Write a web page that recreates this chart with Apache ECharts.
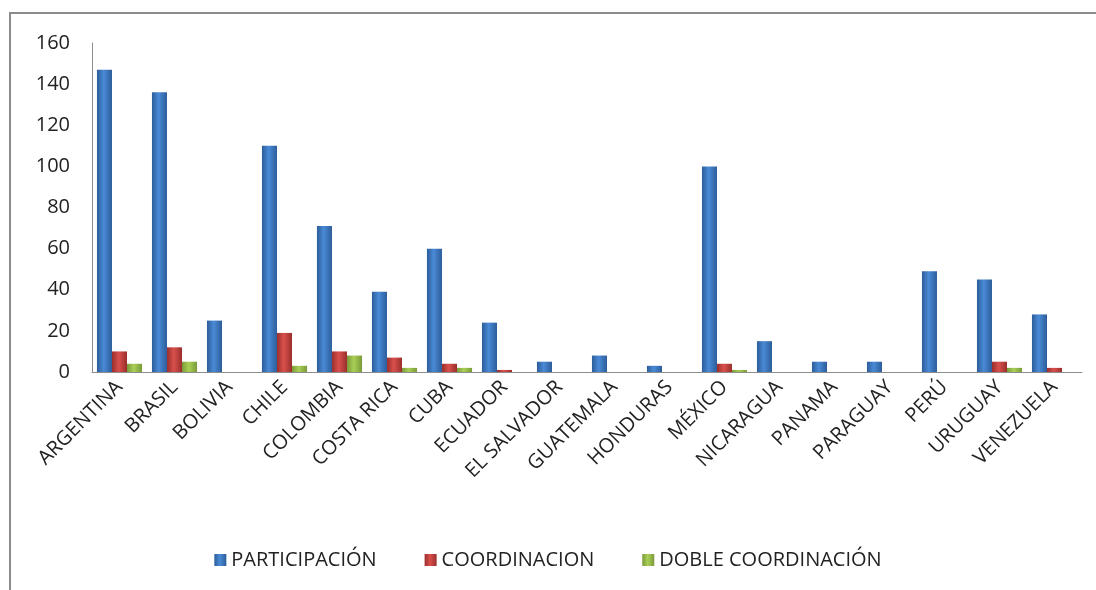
<!DOCTYPE html>
<html>
<head>
<meta charset="utf-8">
<script src="https://cdn.jsdelivr.net/npm/echarts@6/dist/echarts.min.js"></script>
<style>
  html, body { margin: 0; padding: 0; background: #fff; }
  .frame {
    position: absolute; left: 9px; top: 12px; width: 1200px; height: 700px;
    border-top: 2px solid #8c8c8c; border-left: 2px solid #8c8c8c;
  }
  #chart { position: absolute; left: 0; top: 0; width: 1096px; height: 590px; }
</style>
</head>
<body>
<div class="frame"></div>
<div id="chart"></div>
<script>
// paises
const paises = ['ARGENTINA', 'BRASIL', 'BOLIVIA', 'CHILE', 'COLOMBIA', 'COSTA RICA', 'CUBA', 'ECUADOR',
  'EL SALVADOR', 'GUATEMALA', 'HONDURAS', 'MÉXICO', 'NICARAGUA', 'PANAMA', 'PARAGUAY', 'PERÚ', 'URUGUAY', 'VENEZUELA'];
const participacion = [147, 136, 25, 110, 71, 39, 60, 24, 5, 8, 3, 100, 15, 5, 5, 49, 45, 28];
const coordinacion = [10, 12, 0, 19, 10, 7, 4, 1, 0, 0, 0, 4, 0, 0, 0, 0, 5, 2];
const dobleCoordinacion = [4, 5, 0, 3, 8, 2, 2, 0, 0, 0, 0, 1, 0, 0, 0, 0, 2, 0];
const yTicks = [0, 20, 40, 60, 80, 100, 120, 140, 160];

const chart = echarts.init(document.getElementById('chart'));

// degradado horizontal tipo Excel
function relleno(oscuro, claro) {
  return new echarts.graphic.LinearGradient(0, 0, 1, 0, [
    { offset: 0, color: oscuro },
    { offset: 0.45, color: claro },
    { offset: 1, color: oscuro },
  ]);
}

const option = {
  animation: false,
  textStyle: { fontFamily: 'Open Sans' },
  grid: { left: 92, right: 14, top: 43, bottom: 218 },
  legend: {
    bottom: 15,
    left: 'center',
    itemWidth: 12,
    itemHeight: 12,
    itemGap: 48,
    itemTextGap: 8,
    icon: 'rect',
    textStyle: { fontSize: 20, color: '#222' },
    data: ['PARTICIPACIÓN', 'COORDINACION', 'DOBLE COORDINACIÓN'],
  },
  xAxis: {
    type: 'category',
    data: paises,
    axisLine: { show: true, lineStyle: { color: '#8c8c8c', width: 1 } },
    axisTick: { show: false },
    axisLabel: {
      interval: 0,
      rotate: 45,
      fontSize: 20,
      color: '#222',
      margin: 12,
    },
  },
  yAxis: {
    type: 'value',
    min: 0,
    max: 160,
    interval: 20,
    splitLine: { show: false },
    axisLine: { show: true, lineStyle: { color: '#8c8c8c', width: 1 } },
    axisTick: { show: false },
    axisLabel: {
      fontSize: 20,
      color: '#222',
      margin: 22,
      formatter: (v) => (yTicks.indexOf(v) >= 0 ? String(v) : ''),
    },
  },
  series: [
    {
      name: 'PARTICIPACIÓN',
      type: 'bar',
      data: participacion,
      barGap: '0%',
      barCategoryGap: '18%',
      itemStyle: { color: relleno('#2c5d9a', '#4a8ad6') },
    },
    {
      name: 'COORDINACION',
      type: 'bar',
      data: coordinacion,
      itemStyle: { color: relleno('#9a2f2c', '#d9504c') },
    },
    {
      name: 'DOBLE COORDINACIÓN',
      type: 'bar',
      data: dobleCoordinacion,
      itemStyle: { color: relleno('#7a9a3a', '#a9cf55') },
    },
  ],
};
chart.setOption(option, true);
</script>
</body>
</html>
